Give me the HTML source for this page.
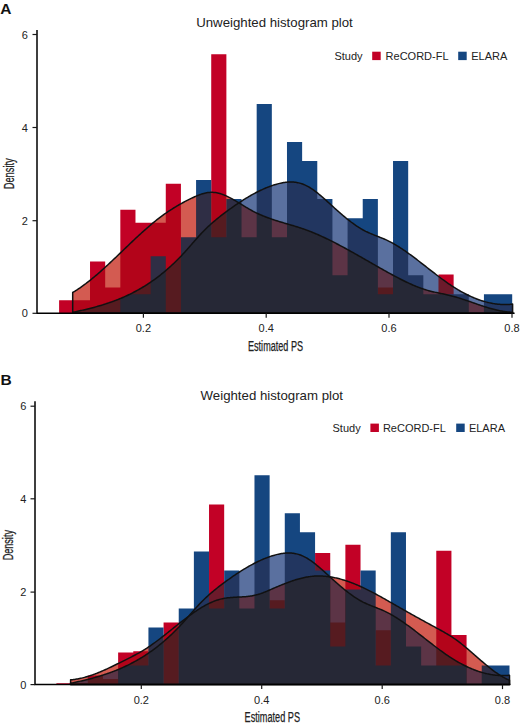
<!DOCTYPE html>
<html><head><meta charset="utf-8"><style>
html,body{margin:0;padding:0;background:#fff;}
svg{display:block;}
text{font-family:"Liberation Sans",sans-serif;fill:#222;}
.tk{font-size:11px;}
.tt{font-size:13px;}
.lg{font-size:11px;}
.pl{font-size:15.5px;font-weight:bold;fill:#111;}
.ax{font-size:14px;stroke:#222;stroke-width:0.25px;}
</style></head><body>
<svg width="520" height="726" viewBox="0 0 520 726">
<rect width="520" height="726" fill="#fff"/>
<defs><clipPath id="csa"><path d="M72.70,292.49 L73.70,291.89 L74.70,291.29 L75.70,290.67 L76.70,290.03 L77.70,289.38 L78.70,288.72 L79.70,288.04 L80.70,287.35 L81.70,286.65 L82.70,285.94 L83.70,285.21 L84.70,284.48 L85.70,283.73 L86.70,282.97 L87.70,282.20 L88.70,281.41 L89.70,280.62 L90.70,279.82 L91.70,279.01 L92.70,278.19 L93.70,277.36 L94.70,276.52 L95.70,275.68 L96.70,274.82 L97.70,273.96 L98.70,273.09 L99.70,272.21 L100.70,271.33 L101.70,270.43 L102.70,269.54 L103.70,268.63 L104.70,267.72 L105.70,266.81 L106.70,265.89 L107.70,264.97 L108.70,264.04 L109.70,263.10 L110.70,262.17 L111.70,261.22 L112.70,260.28 L113.70,259.33 L114.70,258.38 L115.70,257.43 L116.70,256.48 L117.70,255.52 L118.70,254.56 L119.70,253.60 L120.70,252.64 L121.70,251.68 L122.70,250.72 L123.70,249.76 L124.70,248.80 L125.70,247.84 L126.70,246.88 L127.70,245.92 L128.70,244.96 L129.70,244.00 L130.70,243.05 L131.70,242.10 L132.70,241.15 L133.70,240.21 L134.70,239.26 L135.70,238.32 L136.70,237.39 L137.70,236.46 L138.70,235.53 L139.70,234.61 L140.70,233.69 L141.70,232.78 L142.70,231.88 L143.70,230.98 L144.70,230.08 L145.70,229.20 L146.70,228.32 L147.70,227.44 L148.70,226.58 L149.70,225.72 L150.70,224.87 L151.70,224.03 L152.70,223.19 L153.70,222.37 L154.70,221.55 L155.70,220.75 L156.70,219.95 L157.70,219.17 L158.70,218.39 L159.70,217.63 L160.70,216.87 L161.70,216.13 L162.70,215.40 L163.70,214.68 L164.70,213.96 L165.70,213.26 L166.70,212.57 L167.70,211.89 L168.70,211.22 L169.70,210.55 L170.70,209.90 L171.70,209.26 L172.70,208.62 L173.70,208.00 L174.70,207.38 L175.70,206.78 L176.70,206.18 L177.70,205.59 L178.70,205.01 L179.70,204.44 L180.70,203.87 L181.70,203.32 L182.70,202.77 L183.70,202.23 L184.70,201.70 L185.70,201.17 L186.70,200.65 L187.70,200.14 L188.70,199.64 L189.70,199.15 L190.70,198.66 L191.70,198.18 L192.70,197.71 L193.70,197.24 L194.70,196.79 L195.70,196.35 L196.70,195.92 L197.70,195.51 L198.70,195.12 L199.70,194.74 L200.70,194.38 L201.70,194.05 L202.70,193.74 L203.70,193.46 L204.70,193.20 L205.70,192.98 L206.70,192.78 L207.70,192.61 L208.70,192.48 L209.70,192.38 L210.70,192.32 L211.70,192.30 L212.70,192.32 L213.70,192.38 L214.70,192.48 L215.70,192.61 L216.70,192.78 L217.70,192.98 L218.70,193.22 L219.70,193.49 L220.70,193.79 L221.70,194.11 L222.70,194.47 L223.70,194.85 L224.70,195.25 L225.70,195.68 L226.70,196.13 L227.70,196.60 L228.70,197.09 L229.70,197.60 L230.70,198.12 L231.70,198.66 L232.70,199.22 L233.70,199.78 L234.70,200.36 L235.70,200.94 L236.70,201.54 L237.70,202.14 L238.70,202.74 L239.70,203.35 L240.70,203.97 L241.70,204.58 L242.70,205.20 L243.70,205.81 L244.70,206.42 L245.70,207.02 L246.70,207.63 L247.70,208.22 L248.70,208.80 L249.70,209.38 L250.70,209.95 L251.70,210.50 L252.70,211.04 L253.70,211.56 L254.70,212.07 L255.70,212.57 L256.70,213.06 L257.70,213.53 L258.70,214.00 L259.70,214.45 L260.70,214.89 L261.70,215.31 L262.70,215.73 L263.70,216.14 L264.70,216.54 L265.70,216.93 L266.70,217.31 L267.70,217.69 L268.70,218.05 L269.70,218.41 L270.70,218.76 L271.70,219.11 L272.70,219.45 L273.70,219.78 L274.70,220.11 L275.70,220.43 L276.70,220.75 L277.70,221.06 L278.70,221.37 L279.70,221.68 L280.70,221.98 L281.70,222.28 L282.70,222.58 L283.70,222.88 L284.70,223.17 L285.70,223.47 L286.70,223.76 L287.70,224.05 L288.70,224.35 L289.70,224.64 L290.70,224.94 L291.70,225.23 L292.70,225.53 L293.70,225.83 L294.70,226.14 L295.70,226.44 L296.70,226.75 L297.70,227.07 L298.70,227.38 L299.70,227.71 L300.70,228.03 L301.70,228.37 L302.70,228.71 L303.70,229.05 L304.70,229.40 L305.70,229.76 L306.70,230.13 L307.70,230.50 L308.70,230.88 L309.70,231.26 L310.70,231.65 L311.70,232.05 L312.70,232.46 L313.70,232.87 L314.70,233.28 L315.70,233.70 L316.70,234.13 L317.70,234.56 L318.70,235.00 L319.70,235.45 L320.70,235.90 L321.70,236.35 L322.70,236.81 L323.70,237.28 L324.70,237.74 L325.70,238.22 L326.70,238.70 L327.70,239.18 L328.70,239.67 L329.70,240.16 L330.70,240.66 L331.70,241.16 L332.70,241.66 L333.70,242.17 L334.70,242.68 L335.70,243.20 L336.70,243.71 L337.70,244.24 L338.70,244.76 L339.70,245.29 L340.70,245.82 L341.70,246.36 L342.70,246.90 L343.70,247.44 L344.70,247.98 L345.70,248.52 L346.70,249.07 L347.70,249.62 L348.70,250.18 L349.70,250.73 L350.70,251.29 L351.70,251.85 L352.70,252.41 L353.70,252.97 L354.70,253.53 L355.70,254.10 L356.70,254.66 L357.70,255.23 L358.70,255.80 L359.70,256.37 L360.70,256.94 L361.70,257.51 L362.70,258.08 L363.70,258.66 L364.70,259.23 L365.70,259.80 L366.70,260.38 L367.70,260.95 L368.70,261.52 L369.70,262.10 L370.70,262.67 L371.70,263.24 L372.70,263.82 L373.70,264.39 L374.70,264.96 L375.70,265.53 L376.70,266.10 L377.70,266.67 L378.70,267.24 L379.70,267.81 L380.70,268.37 L381.70,268.94 L382.70,269.50 L383.70,270.06 L384.70,270.62 L385.70,271.18 L386.70,271.73 L387.70,272.29 L388.70,272.84 L389.70,273.39 L390.70,273.93 L391.70,274.48 L392.70,275.02 L393.70,275.56 L394.70,276.09 L395.70,276.63 L396.70,277.15 L397.70,277.68 L398.70,278.20 L399.70,278.72 L400.70,279.23 L401.70,279.74 L402.70,280.24 L403.70,280.74 L404.70,281.23 L405.70,281.72 L406.70,282.20 L407.70,282.67 L408.70,283.14 L409.70,283.60 L410.70,284.05 L411.70,284.50 L412.70,284.94 L413.70,285.37 L414.70,285.79 L415.70,286.20 L416.70,286.60 L417.70,287.00 L418.70,287.38 L419.70,287.76 L420.70,288.13 L421.70,288.48 L422.70,288.83 L423.70,289.16 L424.70,289.49 L425.70,289.80 L426.70,290.10 L427.70,290.39 L428.70,290.67 L429.70,290.93 L430.70,291.19 L431.70,291.44 L432.70,291.68 L433.70,291.92 L434.70,292.14 L435.70,292.37 L436.70,292.59 L437.70,292.80 L438.70,293.01 L439.70,293.22 L440.70,293.43 L441.70,293.64 L442.70,293.85 L443.70,294.06 L444.70,294.28 L445.70,294.49 L446.70,294.71 L447.70,294.94 L448.70,295.17 L449.70,295.41 L450.70,295.65 L451.70,295.91 L452.70,296.17 L453.70,296.44 L454.70,296.72 L455.70,297.01 L456.70,297.30 L457.70,297.60 L458.70,297.90 L459.70,298.22 L460.70,298.53 L461.70,298.85 L462.70,299.18 L463.70,299.51 L464.70,299.85 L465.70,300.19 L466.70,300.53 L467.70,300.87 L468.70,301.22 L469.70,301.56 L470.70,301.91 L471.70,302.26 L472.70,302.61 L473.70,302.96 L474.70,303.31 L475.70,303.66 L476.70,304.01 L477.70,304.35 L478.70,304.70 L479.70,305.04 L480.70,305.38 L481.70,305.71 L482.70,306.04 L483.70,306.37 L484.70,306.70 L485.70,307.01 L486.70,307.33 L487.70,307.63 L488.70,307.94 L489.70,308.23 L490.70,308.52 L491.70,308.80 L492.70,309.07 L493.70,309.34 L494.70,309.59 L495.70,309.84 L496.70,310.08 L497.70,310.30 L498.70,310.52 L499.70,310.73 L500.70,310.92 L501.70,311.11 L502.70,311.28 L503.70,311.44 L504.70,311.59 L505.70,311.72 L506.70,311.84 L507.70,311.95 L508.70,312.04 L509.70,312.12 L510.70,312.18 L511.70,312.23 L512.60,312.25 L512.60,313.30 L72.70,313.30 Z"/></clipPath><clipPath id="cla"><path d="M72.70,312.30 L73.70,312.09 L74.70,311.88 L75.70,311.67 L76.70,311.46 L77.70,311.25 L78.70,311.03 L79.70,310.82 L80.70,310.59 L81.70,310.37 L82.70,310.14 L83.70,309.91 L84.70,309.68 L85.70,309.45 L86.70,309.21 L87.70,308.97 L88.70,308.72 L89.70,308.47 L90.70,308.22 L91.70,307.96 L92.70,307.70 L93.70,307.44 L94.70,307.17 L95.70,306.90 L96.70,306.62 L97.70,306.34 L98.70,306.05 L99.70,305.76 L100.70,305.46 L101.70,305.16 L102.70,304.86 L103.70,304.55 L104.70,304.23 L105.70,303.91 L106.70,303.58 L107.70,303.25 L108.70,302.91 L109.70,302.57 L110.70,302.22 L111.70,301.86 L112.70,301.50 L113.70,301.13 L114.70,300.76 L115.70,300.38 L116.70,299.99 L117.70,299.60 L118.70,299.20 L119.70,298.79 L120.70,298.37 L121.70,297.95 L122.70,297.52 L123.70,297.09 L124.70,296.64 L125.70,296.19 L126.70,295.73 L127.70,295.27 L128.70,294.79 L129.70,294.31 L130.70,293.82 L131.70,293.32 L132.70,292.81 L133.70,292.29 L134.70,291.77 L135.70,291.24 L136.70,290.69 L137.70,290.14 L138.70,289.58 L139.70,289.01 L140.70,288.44 L141.70,287.85 L142.70,287.25 L143.70,286.64 L144.70,286.03 L145.70,285.40 L146.70,284.77 L147.70,284.12 L148.70,283.46 L149.70,282.80 L150.70,282.12 L151.70,281.43 L152.70,280.73 L153.70,280.03 L154.70,279.31 L155.70,278.58 L156.70,277.83 L157.70,277.08 L158.70,276.32 L159.70,275.54 L160.70,274.76 L161.70,273.96 L162.70,273.15 L163.70,272.33 L164.70,271.49 L165.70,270.65 L166.70,269.79 L167.70,268.92 L168.70,268.04 L169.70,267.14 L170.70,266.24 L171.70,265.32 L172.70,264.38 L173.70,263.44 L174.70,262.48 L175.70,261.51 L176.70,260.52 L177.70,259.52 L178.70,258.51 L179.70,257.49 L180.70,256.45 L181.70,255.39 L182.70,254.33 L183.70,253.25 L184.70,252.15 L185.70,251.04 L186.70,249.93 L187.70,248.80 L188.70,247.66 L189.70,246.52 L190.70,245.38 L191.70,244.23 L192.70,243.08 L193.70,241.94 L194.70,240.80 L195.70,239.66 L196.70,238.53 L197.70,237.42 L198.70,236.31 L199.70,235.21 L200.70,234.13 L201.70,233.07 L202.70,232.02 L203.70,231.00 L204.70,229.99 L205.70,229.00 L206.70,228.03 L207.70,227.07 L208.70,226.14 L209.70,225.21 L210.70,224.31 L211.70,223.41 L212.70,222.54 L213.70,221.67 L214.70,220.82 L215.70,219.98 L216.70,219.15 L217.70,218.34 L218.70,217.53 L219.70,216.74 L220.70,215.95 L221.70,215.17 L222.70,214.40 L223.70,213.64 L224.70,212.89 L225.70,212.14 L226.70,211.40 L227.70,210.67 L228.70,209.94 L229.70,209.21 L230.70,208.49 L231.70,207.78 L232.70,207.07 L233.70,206.37 L234.70,205.68 L235.70,204.99 L236.70,204.31 L237.70,203.63 L238.70,202.96 L239.70,202.30 L240.70,201.64 L241.70,201.00 L242.70,200.36 L243.70,199.72 L244.70,199.10 L245.70,198.48 L246.70,197.87 L247.70,197.27 L248.70,196.68 L249.70,196.10 L250.70,195.52 L251.70,194.96 L252.70,194.40 L253.70,193.85 L254.70,193.31 L255.70,192.78 L256.70,192.27 L257.70,191.76 L258.70,191.26 L259.70,190.77 L260.70,190.29 L261.70,189.82 L262.70,189.36 L263.70,188.92 L264.70,188.48 L265.70,188.06 L266.70,187.64 L267.70,187.24 L268.70,186.85 L269.70,186.47 L270.70,186.11 L271.70,185.75 L272.70,185.41 L273.70,185.08 L274.70,184.77 L275.70,184.46 L276.70,184.17 L277.70,183.90 L278.70,183.64 L279.70,183.39 L280.70,183.16 L281.70,182.95 L282.70,182.76 L283.70,182.59 L284.70,182.44 L285.70,182.30 L286.70,182.19 L287.70,182.11 L288.70,182.04 L289.70,182.00 L290.70,181.99 L291.70,182.00 L292.70,182.04 L293.70,182.10 L294.70,182.20 L295.70,182.32 L296.70,182.47 L297.70,182.66 L298.70,182.87 L299.70,183.12 L300.70,183.40 L301.70,183.71 L302.70,184.06 L303.70,184.45 L304.70,184.87 L305.70,185.33 L306.70,185.82 L307.70,186.35 L308.70,186.91 L309.70,187.50 L310.70,188.12 L311.70,188.77 L312.70,189.45 L313.70,190.15 L314.70,190.88 L315.70,191.63 L316.70,192.39 L317.70,193.18 L318.70,193.99 L319.70,194.81 L320.70,195.65 L321.70,196.51 L322.70,197.37 L323.70,198.25 L324.70,199.13 L325.70,200.03 L326.70,200.93 L327.70,201.83 L328.70,202.74 L329.70,203.65 L330.70,204.57 L331.70,205.48 L332.70,206.39 L333.70,207.29 L334.70,208.20 L335.70,209.10 L336.70,209.99 L337.70,210.89 L338.70,211.77 L339.70,212.65 L340.70,213.52 L341.70,214.38 L342.70,215.24 L343.70,216.09 L344.70,216.93 L345.70,217.75 L346.70,218.57 L347.70,219.38 L348.70,220.17 L349.70,220.96 L350.70,221.73 L351.70,222.48 L352.70,223.22 L353.70,223.95 L354.70,224.66 L355.70,225.36 L356.70,226.04 L357.70,226.70 L358.70,227.35 L359.70,227.97 L360.70,228.58 L361.70,229.17 L362.70,229.74 L363.70,230.28 L364.70,230.81 L365.70,231.32 L366.70,231.80 L367.70,232.27 L368.70,232.73 L369.70,233.17 L370.70,233.60 L371.70,234.02 L372.70,234.42 L373.70,234.83 L374.70,235.22 L375.70,235.62 L376.70,236.01 L377.70,236.40 L378.70,236.79 L379.70,237.18 L380.70,237.58 L381.70,237.98 L382.70,238.39 L383.70,238.81 L384.70,239.24 L385.70,239.69 L386.70,240.14 L387.70,240.62 L388.70,241.10 L389.70,241.61 L390.70,242.12 L391.70,242.66 L392.70,243.20 L393.70,243.76 L394.70,244.34 L395.70,244.92 L396.70,245.52 L397.70,246.13 L398.70,246.75 L399.70,247.38 L400.70,248.03 L401.70,248.68 L402.70,249.35 L403.70,250.02 L404.70,250.70 L405.70,251.39 L406.70,252.09 L407.70,252.80 L408.70,253.52 L409.70,254.24 L410.70,254.97 L411.70,255.70 L412.70,256.44 L413.70,257.19 L414.70,257.94 L415.70,258.70 L416.70,259.46 L417.70,260.23 L418.70,261.00 L419.70,261.77 L420.70,262.54 L421.70,263.32 L422.70,264.10 L423.70,264.88 L424.70,265.66 L425.70,266.44 L426.70,267.23 L427.70,268.01 L428.70,268.79 L429.70,269.58 L430.70,270.36 L431.70,271.14 L432.70,271.91 L433.70,272.69 L434.70,273.46 L435.70,274.23 L436.70,275.00 L437.70,275.76 L438.70,276.51 L439.70,277.27 L440.70,278.01 L441.70,278.76 L442.70,279.49 L443.70,280.22 L444.70,280.94 L445.70,281.66 L446.70,282.37 L447.70,283.07 L448.70,283.76 L449.70,284.44 L450.70,285.11 L451.70,285.78 L452.70,286.43 L453.70,287.08 L454.70,287.71 L455.70,288.34 L456.70,288.95 L457.70,289.55 L458.70,290.15 L459.70,290.73 L460.70,291.30 L461.70,291.86 L462.70,292.41 L463.70,292.95 L464.70,293.48 L465.70,294.00 L466.70,294.51 L467.70,295.00 L468.70,295.48 L469.70,295.96 L470.70,296.42 L471.70,296.87 L472.70,297.30 L473.70,297.73 L474.70,298.14 L475.70,298.55 L476.70,298.94 L477.70,299.31 L478.70,299.68 L479.70,300.03 L480.70,300.37 L481.70,300.70 L482.70,301.01 L483.70,301.32 L484.70,301.61 L485.70,301.88 L486.70,302.15 L487.70,302.40 L488.70,302.63 L489.70,302.86 L490.70,303.07 L491.70,303.26 L492.70,303.45 L493.70,303.62 L494.70,303.77 L495.70,303.92 L496.70,304.04 L497.70,304.16 L498.70,304.26 L499.70,304.34 L500.70,304.41 L501.70,304.47 L502.70,304.51 L503.70,304.54 L504.70,304.55 L505.70,304.55 L506.70,304.53 L507.70,304.50 L508.70,304.45 L509.70,304.39 L510.70,304.31 L511.70,304.22 L512.60,304.12 L512.60,313.30 L72.70,313.30 Z"/></clipPath></defs><path d="M59.10,300.35H74.88V313.30H59.10ZM74.88,300.35H90.03V313.30H74.88ZM90.03,261.50H105.18V313.30H90.03ZM105.18,287.40H120.33V313.30H105.18ZM120.33,209.70H135.48V313.30H120.33ZM135.48,222.65H150.63V313.30H135.48ZM150.63,222.65H165.78V313.30H150.63ZM165.78,183.80H180.93V313.30H165.78ZM211.23,54.30H226.38V313.30H211.23ZM377.88,287.40H393.03V313.30H377.88ZM438.48,274.45H453.63V313.30H438.48Z" fill="#c20126"/><path d="M135.48,294.27H150.63V313.30H135.48ZM150.63,256.21H165.78V313.30H150.63ZM180.93,237.18H196.08V313.30H180.93ZM196.08,180.09H211.23V313.30H196.08ZM211.23,237.18H226.38V313.30H211.23ZM226.38,199.12H241.53V313.30H226.38ZM241.53,237.18H256.68V313.30H241.53ZM256.68,103.97H271.83V313.30H256.68ZM271.83,237.18H286.98V313.30H271.83ZM286.98,142.03H302.13V313.30H286.98ZM302.13,161.06H317.28V313.30H302.13ZM317.28,199.12H332.43V313.30H317.28ZM332.43,275.24H347.58V313.30H332.43ZM347.58,218.15H362.73V313.30H347.58ZM362.73,199.12H377.88V313.30H362.73ZM377.88,294.27H393.03V313.30H377.88ZM393.03,161.06H408.18V313.30H393.03ZM408.18,275.24H423.33V313.30H408.18ZM423.33,294.27H438.48V313.30H423.33ZM438.48,294.27H453.63V313.30H438.48ZM453.63,294.27H468.78V313.30H453.63ZM483.93,294.27H499.08V313.30H483.93ZM499.08,294.27H512.20V313.30H499.08Z" fill="#154680"/><g clip-path="url(#csa)"><rect x="60" y="13.3" width="460" height="300" fill="#d35b51"/><path d="M59.10,300.35H74.88V313.30H59.10ZM74.88,300.35H90.03V313.30H74.88ZM90.03,261.50H105.18V313.30H90.03ZM105.18,287.40H120.33V313.30H105.18ZM120.33,209.70H135.48V313.30H120.33ZM135.48,222.65H150.63V313.30H135.48ZM150.63,222.65H165.78V313.30H150.63ZM165.78,183.80H180.93V313.30H165.78ZM211.23,54.30H226.38V313.30H211.23ZM377.88,287.40H393.03V313.30H377.88ZM438.48,274.45H453.63V313.30H438.48Z" fill="#b3041a"/><path d="M135.48,294.27H150.63V313.30H135.48ZM150.63,256.21H165.78V313.30H150.63ZM180.93,237.18H196.08V313.30H180.93ZM196.08,180.09H211.23V313.30H196.08ZM211.23,237.18H226.38V313.30H211.23ZM226.38,199.12H241.53V313.30H226.38ZM241.53,237.18H256.68V313.30H241.53ZM256.68,103.97H271.83V313.30H256.68ZM271.83,237.18H286.98V313.30H271.83ZM286.98,142.03H302.13V313.30H286.98ZM302.13,161.06H317.28V313.30H302.13ZM317.28,199.12H332.43V313.30H317.28ZM332.43,275.24H347.58V313.30H332.43ZM347.58,218.15H362.73V313.30H347.58ZM362.73,199.12H377.88V313.30H362.73ZM377.88,294.27H393.03V313.30H377.88ZM393.03,161.06H408.18V313.30H393.03ZM408.18,275.24H423.33V313.30H408.18ZM423.33,294.27H438.48V313.30H423.33ZM438.48,294.27H453.63V313.30H438.48ZM453.63,294.27H468.78V313.30H453.63ZM483.93,294.27H499.08V313.30H483.93ZM499.08,294.27H512.20V313.30H499.08Z" fill="#2f2e45"/></g><g clip-path="url(#cla)"><rect x="60" y="13.3" width="460" height="300" fill="#5a709f"/><path d="M59.10,300.35H74.88V313.30H59.10ZM74.88,300.35H90.03V313.30H74.88ZM90.03,261.50H105.18V313.30H90.03ZM105.18,287.40H120.33V313.30H105.18ZM120.33,209.70H135.48V313.30H120.33ZM135.48,222.65H150.63V313.30H135.48ZM150.63,222.65H165.78V313.30H150.63ZM165.78,183.80H180.93V313.30H165.78ZM211.23,54.30H226.38V313.30H211.23ZM377.88,287.40H393.03V313.30H377.88ZM438.48,274.45H453.63V313.30H438.48Z" fill="#6c1a2b"/><path d="M120.33,294.27H135.48V313.30H120.33ZM135.48,294.27H150.63V313.30H135.48ZM150.63,256.21H165.78V313.30H150.63ZM180.93,237.18H196.08V313.30H180.93ZM196.08,180.09H211.23V313.30H196.08ZM211.23,237.18H226.38V313.30H211.23ZM226.38,199.12H241.53V313.30H226.38ZM241.53,237.18H256.68V313.30H241.53ZM256.68,103.97H271.83V313.30H256.68ZM271.83,237.18H286.98V313.30H271.83ZM286.98,142.03H302.13V313.30H286.98ZM302.13,161.06H317.28V313.30H302.13ZM317.28,199.12H332.43V313.30H317.28ZM332.43,275.24H347.58V313.30H332.43ZM347.58,218.15H362.73V313.30H347.58ZM362.73,199.12H377.88V313.30H362.73ZM377.88,294.27H393.03V313.30H377.88ZM393.03,161.06H408.18V313.30H393.03ZM408.18,275.24H423.33V313.30H408.18ZM423.33,294.27H438.48V313.30H423.33ZM438.48,294.27H453.63V313.30H438.48ZM453.63,294.27H468.78V313.30H453.63ZM483.93,294.27H499.08V313.30H483.93ZM499.08,294.27H512.20V313.30H499.08Z" fill="#223660"/></g><g clip-path="url(#csa)"><g clip-path="url(#cla)"><rect x="60" y="13.3" width="460" height="300" fill="#5c3446"/><path d="M59.10,300.35H74.88V313.30H59.10ZM74.88,300.35H90.03V313.30H74.88ZM90.03,261.50H105.18V313.30H90.03ZM105.18,287.40H120.33V313.30H105.18ZM120.33,209.70H135.48V313.30H120.33ZM135.48,222.65H150.63V313.30H135.48ZM150.63,222.65H165.78V313.30H150.63ZM165.78,183.80H180.93V313.30H165.78ZM211.23,54.30H226.38V313.30H211.23ZM377.88,287.40H393.03V313.30H377.88ZM438.48,274.45H453.63V313.30H438.48Z" fill="#561b20"/><path d="M120.33,294.27H135.48V313.30H120.33ZM135.48,294.27H150.63V313.30H135.48ZM150.63,256.21H165.78V313.30H150.63ZM180.93,237.18H196.08V313.30H180.93ZM196.08,180.09H211.23V313.30H196.08ZM211.23,237.18H226.38V313.30H211.23ZM226.38,199.12H241.53V313.30H226.38ZM241.53,237.18H256.68V313.30H241.53ZM256.68,103.97H271.83V313.30H256.68ZM271.83,237.18H286.98V313.30H271.83ZM286.98,142.03H302.13V313.30H286.98ZM302.13,161.06H317.28V313.30H302.13ZM317.28,199.12H332.43V313.30H317.28ZM332.43,275.24H347.58V313.30H332.43ZM347.58,218.15H362.73V313.30H347.58ZM362.73,199.12H377.88V313.30H362.73ZM377.88,294.27H393.03V313.30H377.88ZM393.03,161.06H408.18V313.30H393.03ZM408.18,275.24H423.33V313.30H408.18ZM423.33,294.27H438.48V313.30H423.33ZM438.48,294.27H453.63V313.30H438.48ZM453.63,294.27H468.78V313.30H453.63ZM483.93,294.27H499.08V313.30H483.93ZM499.08,294.27H512.20V313.30H499.08Z" fill="#262836"/></g></g><path d="M72.70,292.49 L73.70,291.89 L74.70,291.29 L75.70,290.67 L76.70,290.03 L77.70,289.38 L78.70,288.72 L79.70,288.04 L80.70,287.35 L81.70,286.65 L82.70,285.94 L83.70,285.21 L84.70,284.48 L85.70,283.73 L86.70,282.97 L87.70,282.20 L88.70,281.41 L89.70,280.62 L90.70,279.82 L91.70,279.01 L92.70,278.19 L93.70,277.36 L94.70,276.52 L95.70,275.68 L96.70,274.82 L97.70,273.96 L98.70,273.09 L99.70,272.21 L100.70,271.33 L101.70,270.43 L102.70,269.54 L103.70,268.63 L104.70,267.72 L105.70,266.81 L106.70,265.89 L107.70,264.97 L108.70,264.04 L109.70,263.10 L110.70,262.17 L111.70,261.22 L112.70,260.28 L113.70,259.33 L114.70,258.38 L115.70,257.43 L116.70,256.48 L117.70,255.52 L118.70,254.56 L119.70,253.60 L120.70,252.64 L121.70,251.68 L122.70,250.72 L123.70,249.76 L124.70,248.80 L125.70,247.84 L126.70,246.88 L127.70,245.92 L128.70,244.96 L129.70,244.00 L130.70,243.05 L131.70,242.10 L132.70,241.15 L133.70,240.21 L134.70,239.26 L135.70,238.32 L136.70,237.39 L137.70,236.46 L138.70,235.53 L139.70,234.61 L140.70,233.69 L141.70,232.78 L142.70,231.88 L143.70,230.98 L144.70,230.08 L145.70,229.20 L146.70,228.32 L147.70,227.44 L148.70,226.58 L149.70,225.72 L150.70,224.87 L151.70,224.03 L152.70,223.19 L153.70,222.37 L154.70,221.55 L155.70,220.75 L156.70,219.95 L157.70,219.17 L158.70,218.39 L159.70,217.63 L160.70,216.87 L161.70,216.13 L162.70,215.40 L163.70,214.68 L164.70,213.96 L165.70,213.26 L166.70,212.57 L167.70,211.89 L168.70,211.22 L169.70,210.55 L170.70,209.90 L171.70,209.26 L172.70,208.62 L173.70,208.00 L174.70,207.38 L175.70,206.78 L176.70,206.18 L177.70,205.59 L178.70,205.01 L179.70,204.44 L180.70,203.87 L181.70,203.32 L182.70,202.77 L183.70,202.23 L184.70,201.70 L185.70,201.17 L186.70,200.65 L187.70,200.14 L188.70,199.64 L189.70,199.15 L190.70,198.66 L191.70,198.18 L192.70,197.71 L193.70,197.24 L194.70,196.79 L195.70,196.35 L196.70,195.92 L197.70,195.51 L198.70,195.12 L199.70,194.74 L200.70,194.38 L201.70,194.05 L202.70,193.74 L203.70,193.46 L204.70,193.20 L205.70,192.98 L206.70,192.78 L207.70,192.61 L208.70,192.48 L209.70,192.38 L210.70,192.32 L211.70,192.30 L212.70,192.32 L213.70,192.38 L214.70,192.48 L215.70,192.61 L216.70,192.78 L217.70,192.98 L218.70,193.22 L219.70,193.49 L220.70,193.79 L221.70,194.11 L222.70,194.47 L223.70,194.85 L224.70,195.25 L225.70,195.68 L226.70,196.13 L227.70,196.60 L228.70,197.09 L229.70,197.60 L230.70,198.12 L231.70,198.66 L232.70,199.22 L233.70,199.78 L234.70,200.36 L235.70,200.94 L236.70,201.54 L237.70,202.14 L238.70,202.74 L239.70,203.35 L240.70,203.97 L241.70,204.58 L242.70,205.20 L243.70,205.81 L244.70,206.42 L245.70,207.02 L246.70,207.63 L247.70,208.22 L248.70,208.80 L249.70,209.38 L250.70,209.95 L251.70,210.50 L252.70,211.04 L253.70,211.56 L254.70,212.07 L255.70,212.57 L256.70,213.06 L257.70,213.53 L258.70,214.00 L259.70,214.45 L260.70,214.89 L261.70,215.31 L262.70,215.73 L263.70,216.14 L264.70,216.54 L265.70,216.93 L266.70,217.31 L267.70,217.69 L268.70,218.05 L269.70,218.41 L270.70,218.76 L271.70,219.11 L272.70,219.45 L273.70,219.78 L274.70,220.11 L275.70,220.43 L276.70,220.75 L277.70,221.06 L278.70,221.37 L279.70,221.68 L280.70,221.98 L281.70,222.28 L282.70,222.58 L283.70,222.88 L284.70,223.17 L285.70,223.47 L286.70,223.76 L287.70,224.05 L288.70,224.35 L289.70,224.64 L290.70,224.94 L291.70,225.23 L292.70,225.53 L293.70,225.83 L294.70,226.14 L295.70,226.44 L296.70,226.75 L297.70,227.07 L298.70,227.38 L299.70,227.71 L300.70,228.03 L301.70,228.37 L302.70,228.71 L303.70,229.05 L304.70,229.40 L305.70,229.76 L306.70,230.13 L307.70,230.50 L308.70,230.88 L309.70,231.26 L310.70,231.65 L311.70,232.05 L312.70,232.46 L313.70,232.87 L314.70,233.28 L315.70,233.70 L316.70,234.13 L317.70,234.56 L318.70,235.00 L319.70,235.45 L320.70,235.90 L321.70,236.35 L322.70,236.81 L323.70,237.28 L324.70,237.74 L325.70,238.22 L326.70,238.70 L327.70,239.18 L328.70,239.67 L329.70,240.16 L330.70,240.66 L331.70,241.16 L332.70,241.66 L333.70,242.17 L334.70,242.68 L335.70,243.20 L336.70,243.71 L337.70,244.24 L338.70,244.76 L339.70,245.29 L340.70,245.82 L341.70,246.36 L342.70,246.90 L343.70,247.44 L344.70,247.98 L345.70,248.52 L346.70,249.07 L347.70,249.62 L348.70,250.18 L349.70,250.73 L350.70,251.29 L351.70,251.85 L352.70,252.41 L353.70,252.97 L354.70,253.53 L355.70,254.10 L356.70,254.66 L357.70,255.23 L358.70,255.80 L359.70,256.37 L360.70,256.94 L361.70,257.51 L362.70,258.08 L363.70,258.66 L364.70,259.23 L365.70,259.80 L366.70,260.38 L367.70,260.95 L368.70,261.52 L369.70,262.10 L370.70,262.67 L371.70,263.24 L372.70,263.82 L373.70,264.39 L374.70,264.96 L375.70,265.53 L376.70,266.10 L377.70,266.67 L378.70,267.24 L379.70,267.81 L380.70,268.37 L381.70,268.94 L382.70,269.50 L383.70,270.06 L384.70,270.62 L385.70,271.18 L386.70,271.73 L387.70,272.29 L388.70,272.84 L389.70,273.39 L390.70,273.93 L391.70,274.48 L392.70,275.02 L393.70,275.56 L394.70,276.09 L395.70,276.63 L396.70,277.15 L397.70,277.68 L398.70,278.20 L399.70,278.72 L400.70,279.23 L401.70,279.74 L402.70,280.24 L403.70,280.74 L404.70,281.23 L405.70,281.72 L406.70,282.20 L407.70,282.67 L408.70,283.14 L409.70,283.60 L410.70,284.05 L411.70,284.50 L412.70,284.94 L413.70,285.37 L414.70,285.79 L415.70,286.20 L416.70,286.60 L417.70,287.00 L418.70,287.38 L419.70,287.76 L420.70,288.13 L421.70,288.48 L422.70,288.83 L423.70,289.16 L424.70,289.49 L425.70,289.80 L426.70,290.10 L427.70,290.39 L428.70,290.67 L429.70,290.93 L430.70,291.19 L431.70,291.44 L432.70,291.68 L433.70,291.92 L434.70,292.14 L435.70,292.37 L436.70,292.59 L437.70,292.80 L438.70,293.01 L439.70,293.22 L440.70,293.43 L441.70,293.64 L442.70,293.85 L443.70,294.06 L444.70,294.28 L445.70,294.49 L446.70,294.71 L447.70,294.94 L448.70,295.17 L449.70,295.41 L450.70,295.65 L451.70,295.91 L452.70,296.17 L453.70,296.44 L454.70,296.72 L455.70,297.01 L456.70,297.30 L457.70,297.60 L458.70,297.90 L459.70,298.22 L460.70,298.53 L461.70,298.85 L462.70,299.18 L463.70,299.51 L464.70,299.85 L465.70,300.19 L466.70,300.53 L467.70,300.87 L468.70,301.22 L469.70,301.56 L470.70,301.91 L471.70,302.26 L472.70,302.61 L473.70,302.96 L474.70,303.31 L475.70,303.66 L476.70,304.01 L477.70,304.35 L478.70,304.70 L479.70,305.04 L480.70,305.38 L481.70,305.71 L482.70,306.04 L483.70,306.37 L484.70,306.70 L485.70,307.01 L486.70,307.33 L487.70,307.63 L488.70,307.94 L489.70,308.23 L490.70,308.52 L491.70,308.80 L492.70,309.07 L493.70,309.34 L494.70,309.59 L495.70,309.84 L496.70,310.08 L497.70,310.30 L498.70,310.52 L499.70,310.73 L500.70,310.92 L501.70,311.11 L502.70,311.28 L503.70,311.44 L504.70,311.59 L505.70,311.72 L506.70,311.84 L507.70,311.95 L508.70,312.04 L509.70,312.12 L510.70,312.18 L511.70,312.23 L512.60,312.25 L512.60,313.30 L72.70,313.30 Z" fill="none" stroke="#111" stroke-width="1.5" stroke-linejoin="round"/><path d="M72.70,312.30 L73.70,312.09 L74.70,311.88 L75.70,311.67 L76.70,311.46 L77.70,311.25 L78.70,311.03 L79.70,310.82 L80.70,310.59 L81.70,310.37 L82.70,310.14 L83.70,309.91 L84.70,309.68 L85.70,309.45 L86.70,309.21 L87.70,308.97 L88.70,308.72 L89.70,308.47 L90.70,308.22 L91.70,307.96 L92.70,307.70 L93.70,307.44 L94.70,307.17 L95.70,306.90 L96.70,306.62 L97.70,306.34 L98.70,306.05 L99.70,305.76 L100.70,305.46 L101.70,305.16 L102.70,304.86 L103.70,304.55 L104.70,304.23 L105.70,303.91 L106.70,303.58 L107.70,303.25 L108.70,302.91 L109.70,302.57 L110.70,302.22 L111.70,301.86 L112.70,301.50 L113.70,301.13 L114.70,300.76 L115.70,300.38 L116.70,299.99 L117.70,299.60 L118.70,299.20 L119.70,298.79 L120.70,298.37 L121.70,297.95 L122.70,297.52 L123.70,297.09 L124.70,296.64 L125.70,296.19 L126.70,295.73 L127.70,295.27 L128.70,294.79 L129.70,294.31 L130.70,293.82 L131.70,293.32 L132.70,292.81 L133.70,292.29 L134.70,291.77 L135.70,291.24 L136.70,290.69 L137.70,290.14 L138.70,289.58 L139.70,289.01 L140.70,288.44 L141.70,287.85 L142.70,287.25 L143.70,286.64 L144.70,286.03 L145.70,285.40 L146.70,284.77 L147.70,284.12 L148.70,283.46 L149.70,282.80 L150.70,282.12 L151.70,281.43 L152.70,280.73 L153.70,280.03 L154.70,279.31 L155.70,278.58 L156.70,277.83 L157.70,277.08 L158.70,276.32 L159.70,275.54 L160.70,274.76 L161.70,273.96 L162.70,273.15 L163.70,272.33 L164.70,271.49 L165.70,270.65 L166.70,269.79 L167.70,268.92 L168.70,268.04 L169.70,267.14 L170.70,266.24 L171.70,265.32 L172.70,264.38 L173.70,263.44 L174.70,262.48 L175.70,261.51 L176.70,260.52 L177.70,259.52 L178.70,258.51 L179.70,257.49 L180.70,256.45 L181.70,255.39 L182.70,254.33 L183.70,253.25 L184.70,252.15 L185.70,251.04 L186.70,249.93 L187.70,248.80 L188.70,247.66 L189.70,246.52 L190.70,245.38 L191.70,244.23 L192.70,243.08 L193.70,241.94 L194.70,240.80 L195.70,239.66 L196.70,238.53 L197.70,237.42 L198.70,236.31 L199.70,235.21 L200.70,234.13 L201.70,233.07 L202.70,232.02 L203.70,231.00 L204.70,229.99 L205.70,229.00 L206.70,228.03 L207.70,227.07 L208.70,226.14 L209.70,225.21 L210.70,224.31 L211.70,223.41 L212.70,222.54 L213.70,221.67 L214.70,220.82 L215.70,219.98 L216.70,219.15 L217.70,218.34 L218.70,217.53 L219.70,216.74 L220.70,215.95 L221.70,215.17 L222.70,214.40 L223.70,213.64 L224.70,212.89 L225.70,212.14 L226.70,211.40 L227.70,210.67 L228.70,209.94 L229.70,209.21 L230.70,208.49 L231.70,207.78 L232.70,207.07 L233.70,206.37 L234.70,205.68 L235.70,204.99 L236.70,204.31 L237.70,203.63 L238.70,202.96 L239.70,202.30 L240.70,201.64 L241.70,201.00 L242.70,200.36 L243.70,199.72 L244.70,199.10 L245.70,198.48 L246.70,197.87 L247.70,197.27 L248.70,196.68 L249.70,196.10 L250.70,195.52 L251.70,194.96 L252.70,194.40 L253.70,193.85 L254.70,193.31 L255.70,192.78 L256.70,192.27 L257.70,191.76 L258.70,191.26 L259.70,190.77 L260.70,190.29 L261.70,189.82 L262.70,189.36 L263.70,188.92 L264.70,188.48 L265.70,188.06 L266.70,187.64 L267.70,187.24 L268.70,186.85 L269.70,186.47 L270.70,186.11 L271.70,185.75 L272.70,185.41 L273.70,185.08 L274.70,184.77 L275.70,184.46 L276.70,184.17 L277.70,183.90 L278.70,183.64 L279.70,183.39 L280.70,183.16 L281.70,182.95 L282.70,182.76 L283.70,182.59 L284.70,182.44 L285.70,182.30 L286.70,182.19 L287.70,182.11 L288.70,182.04 L289.70,182.00 L290.70,181.99 L291.70,182.00 L292.70,182.04 L293.70,182.10 L294.70,182.20 L295.70,182.32 L296.70,182.47 L297.70,182.66 L298.70,182.87 L299.70,183.12 L300.70,183.40 L301.70,183.71 L302.70,184.06 L303.70,184.45 L304.70,184.87 L305.70,185.33 L306.70,185.82 L307.70,186.35 L308.70,186.91 L309.70,187.50 L310.70,188.12 L311.70,188.77 L312.70,189.45 L313.70,190.15 L314.70,190.88 L315.70,191.63 L316.70,192.39 L317.70,193.18 L318.70,193.99 L319.70,194.81 L320.70,195.65 L321.70,196.51 L322.70,197.37 L323.70,198.25 L324.70,199.13 L325.70,200.03 L326.70,200.93 L327.70,201.83 L328.70,202.74 L329.70,203.65 L330.70,204.57 L331.70,205.48 L332.70,206.39 L333.70,207.29 L334.70,208.20 L335.70,209.10 L336.70,209.99 L337.70,210.89 L338.70,211.77 L339.70,212.65 L340.70,213.52 L341.70,214.38 L342.70,215.24 L343.70,216.09 L344.70,216.93 L345.70,217.75 L346.70,218.57 L347.70,219.38 L348.70,220.17 L349.70,220.96 L350.70,221.73 L351.70,222.48 L352.70,223.22 L353.70,223.95 L354.70,224.66 L355.70,225.36 L356.70,226.04 L357.70,226.70 L358.70,227.35 L359.70,227.97 L360.70,228.58 L361.70,229.17 L362.70,229.74 L363.70,230.28 L364.70,230.81 L365.70,231.32 L366.70,231.80 L367.70,232.27 L368.70,232.73 L369.70,233.17 L370.70,233.60 L371.70,234.02 L372.70,234.42 L373.70,234.83 L374.70,235.22 L375.70,235.62 L376.70,236.01 L377.70,236.40 L378.70,236.79 L379.70,237.18 L380.70,237.58 L381.70,237.98 L382.70,238.39 L383.70,238.81 L384.70,239.24 L385.70,239.69 L386.70,240.14 L387.70,240.62 L388.70,241.10 L389.70,241.61 L390.70,242.12 L391.70,242.66 L392.70,243.20 L393.70,243.76 L394.70,244.34 L395.70,244.92 L396.70,245.52 L397.70,246.13 L398.70,246.75 L399.70,247.38 L400.70,248.03 L401.70,248.68 L402.70,249.35 L403.70,250.02 L404.70,250.70 L405.70,251.39 L406.70,252.09 L407.70,252.80 L408.70,253.52 L409.70,254.24 L410.70,254.97 L411.70,255.70 L412.70,256.44 L413.70,257.19 L414.70,257.94 L415.70,258.70 L416.70,259.46 L417.70,260.23 L418.70,261.00 L419.70,261.77 L420.70,262.54 L421.70,263.32 L422.70,264.10 L423.70,264.88 L424.70,265.66 L425.70,266.44 L426.70,267.23 L427.70,268.01 L428.70,268.79 L429.70,269.58 L430.70,270.36 L431.70,271.14 L432.70,271.91 L433.70,272.69 L434.70,273.46 L435.70,274.23 L436.70,275.00 L437.70,275.76 L438.70,276.51 L439.70,277.27 L440.70,278.01 L441.70,278.76 L442.70,279.49 L443.70,280.22 L444.70,280.94 L445.70,281.66 L446.70,282.37 L447.70,283.07 L448.70,283.76 L449.70,284.44 L450.70,285.11 L451.70,285.78 L452.70,286.43 L453.70,287.08 L454.70,287.71 L455.70,288.34 L456.70,288.95 L457.70,289.55 L458.70,290.15 L459.70,290.73 L460.70,291.30 L461.70,291.86 L462.70,292.41 L463.70,292.95 L464.70,293.48 L465.70,294.00 L466.70,294.51 L467.70,295.00 L468.70,295.48 L469.70,295.96 L470.70,296.42 L471.70,296.87 L472.70,297.30 L473.70,297.73 L474.70,298.14 L475.70,298.55 L476.70,298.94 L477.70,299.31 L478.70,299.68 L479.70,300.03 L480.70,300.37 L481.70,300.70 L482.70,301.01 L483.70,301.32 L484.70,301.61 L485.70,301.88 L486.70,302.15 L487.70,302.40 L488.70,302.63 L489.70,302.86 L490.70,303.07 L491.70,303.26 L492.70,303.45 L493.70,303.62 L494.70,303.77 L495.70,303.92 L496.70,304.04 L497.70,304.16 L498.70,304.26 L499.70,304.34 L500.70,304.41 L501.70,304.47 L502.70,304.51 L503.70,304.54 L504.70,304.55 L505.70,304.55 L506.70,304.53 L507.70,304.50 L508.70,304.45 L509.70,304.39 L510.70,304.31 L511.70,304.22 L512.60,304.12 L512.60,313.30 L72.70,313.30 Z" fill="none" stroke="#111" stroke-width="1.5" stroke-linejoin="round"/><path d="M37.00,30.00V313.30H514.60" fill="none" stroke="#000" stroke-width="1.5"/><line x1="32.50" y1="34.50" x2="37.00" y2="34.50" stroke="#1a1a1a" stroke-width="1.2"/><text x="27.80" y="38.50" text-anchor="end" class="tk">6</text><line x1="32.50" y1="127.50" x2="37.00" y2="127.50" stroke="#1a1a1a" stroke-width="1.2"/><text x="27.80" y="131.50" text-anchor="end" class="tk">4</text><line x1="32.50" y1="220.70" x2="37.00" y2="220.70" stroke="#1a1a1a" stroke-width="1.2"/><text x="27.80" y="224.70" text-anchor="end" class="tk">2</text><line x1="32.50" y1="313.30" x2="37.00" y2="313.30" stroke="#1a1a1a" stroke-width="1.2"/><text x="27.80" y="317.30" text-anchor="end" class="tk">0</text><line x1="143.40" y1="313.30" x2="143.40" y2="317.80" stroke="#1a1a1a" stroke-width="1.2"/><text x="143.40" y="331.80" text-anchor="middle" class="tk">0.2</text><line x1="266.20" y1="313.30" x2="266.20" y2="317.80" stroke="#1a1a1a" stroke-width="1.2"/><text x="266.20" y="331.80" text-anchor="middle" class="tk">0.4</text><line x1="389.00" y1="313.30" x2="389.00" y2="317.80" stroke="#1a1a1a" stroke-width="1.2"/><text x="389.00" y="331.80" text-anchor="middle" class="tk">0.6</text><line x1="512.00" y1="313.30" x2="512.00" y2="317.80" stroke="#1a1a1a" stroke-width="1.2"/><text x="512.00" y="331.80" text-anchor="middle" class="tk">0.8</text><defs><clipPath id="csb"><path d="M70.60,679.83 L71.60,679.75 L72.60,679.65 L73.60,679.54 L74.60,679.41 L75.60,679.27 L76.60,679.11 L77.60,678.94 L78.60,678.76 L79.60,678.56 L80.60,678.34 L81.60,678.12 L82.60,677.88 L83.60,677.62 L84.60,677.36 L85.60,677.08 L86.60,676.80 L87.60,676.50 L88.60,676.19 L89.60,675.86 L90.60,675.53 L91.60,675.19 L92.60,674.84 L93.60,674.48 L94.60,674.11 L95.60,673.73 L96.60,673.34 L97.60,672.95 L98.60,672.54 L99.60,672.13 L100.60,671.71 L101.60,671.29 L102.60,670.86 L103.60,670.42 L104.60,669.97 L105.60,669.52 L106.60,669.07 L107.60,668.61 L108.60,668.14 L109.60,667.67 L110.60,667.20 L111.60,666.72 L112.60,666.24 L113.60,665.76 L114.60,665.27 L115.60,664.78 L116.60,664.29 L117.60,663.79 L118.60,663.30 L119.60,662.80 L120.60,662.30 L121.60,661.80 L122.60,661.30 L123.60,660.80 L124.60,660.30 L125.60,659.81 L126.60,659.31 L127.60,658.81 L128.60,658.31 L129.60,657.81 L130.60,657.31 L131.60,656.80 L132.60,656.29 L133.60,655.78 L134.60,655.26 L135.60,654.73 L136.60,654.20 L137.60,653.66 L138.60,653.11 L139.60,652.55 L140.60,651.97 L141.60,651.39 L142.60,650.80 L143.60,650.19 L144.60,649.57 L145.60,648.94 L146.60,648.29 L147.60,647.63 L148.60,646.97 L149.60,646.29 L150.60,645.60 L151.60,644.90 L152.60,644.19 L153.60,643.47 L154.60,642.74 L155.60,642.00 L156.60,641.26 L157.60,640.51 L158.60,639.75 L159.60,638.99 L160.60,638.22 L161.60,637.45 L162.60,636.67 L163.60,635.89 L164.60,635.10 L165.60,634.31 L166.60,633.51 L167.60,632.72 L168.60,631.92 L169.60,631.12 L170.60,630.32 L171.60,629.52 L172.60,628.72 L173.60,627.91 L174.60,627.11 L175.60,626.31 L176.60,625.52 L177.60,624.72 L178.60,623.93 L179.60,623.14 L180.60,622.35 L181.60,621.57 L182.60,620.79 L183.60,620.02 L184.60,619.25 L185.60,618.49 L186.60,617.73 L187.60,616.98 L188.60,616.24 L189.60,615.51 L190.60,614.78 L191.60,614.06 L192.60,613.35 L193.60,612.66 L194.60,611.97 L195.60,611.29 L196.60,610.62 L197.60,609.97 L198.60,609.32 L199.60,608.69 L200.60,608.07 L201.60,607.47 L202.60,606.88 L203.60,606.30 L204.60,605.74 L205.60,605.19 L206.60,604.66 L207.60,604.14 L208.60,603.64 L209.60,603.16 L210.60,602.70 L211.60,602.25 L212.60,601.82 L213.60,601.41 L214.60,601.02 L215.60,600.65 L216.60,600.30 L217.60,599.97 L218.60,599.67 L219.60,599.38 L220.60,599.12 L221.60,598.87 L222.60,598.66 L223.60,598.46 L224.60,598.28 L225.60,598.12 L226.60,597.97 L227.60,597.84 L228.60,597.73 L229.60,597.63 L230.60,597.54 L231.60,597.46 L232.60,597.38 L233.60,597.32 L234.60,597.26 L235.60,597.21 L236.60,597.16 L237.60,597.11 L238.60,597.06 L239.60,597.01 L240.60,596.96 L241.60,596.90 L242.60,596.84 L243.60,596.78 L244.60,596.71 L245.60,596.63 L246.60,596.53 L247.60,596.43 L248.60,596.32 L249.60,596.19 L250.60,596.05 L251.60,595.89 L252.60,595.72 L253.60,595.53 L254.60,595.32 L255.60,595.10 L256.60,594.85 L257.60,594.58 L258.60,594.28 L259.60,593.97 L260.60,593.64 L261.60,593.28 L262.60,592.92 L263.60,592.53 L264.60,592.14 L265.60,591.73 L266.60,591.32 L267.60,590.89 L268.60,590.46 L269.60,590.03 L270.60,589.60 L271.60,589.16 L272.60,588.73 L273.60,588.29 L274.60,587.86 L275.60,587.43 L276.60,587.01 L277.60,586.58 L278.60,586.16 L279.60,585.74 L280.60,585.33 L281.60,584.92 L282.60,584.52 L283.60,584.12 L284.60,583.72 L285.60,583.34 L286.60,582.95 L287.60,582.58 L288.60,582.21 L289.60,581.85 L290.60,581.49 L291.60,581.14 L292.60,580.80 L293.60,580.47 L294.60,580.15 L295.60,579.84 L296.60,579.54 L297.60,579.24 L298.60,578.96 L299.60,578.69 L300.60,578.43 L301.60,578.18 L302.60,577.94 L303.60,577.71 L304.60,577.50 L305.60,577.30 L306.60,577.11 L307.60,576.94 L308.60,576.78 L309.60,576.63 L310.60,576.50 L311.60,576.38 L312.60,576.28 L313.60,576.19 L314.60,576.12 L315.60,576.07 L316.60,576.02 L317.60,576.00 L318.60,575.99 L319.60,575.99 L320.60,576.01 L321.60,576.04 L322.60,576.09 L323.60,576.15 L324.60,576.22 L325.60,576.31 L326.60,576.41 L327.60,576.52 L328.60,576.65 L329.60,576.79 L330.60,576.94 L331.60,577.10 L332.60,577.28 L333.60,577.47 L334.60,577.67 L335.60,577.88 L336.60,578.10 L337.60,578.34 L338.60,578.58 L339.60,578.84 L340.60,579.11 L341.60,579.39 L342.60,579.68 L343.60,579.98 L344.60,580.29 L345.60,580.61 L346.60,580.94 L347.60,581.28 L348.60,581.63 L349.60,581.99 L350.60,582.35 L351.60,582.73 L352.60,583.12 L353.60,583.51 L354.60,583.91 L355.60,584.32 L356.60,584.74 L357.60,585.17 L358.60,585.60 L359.60,586.04 L360.60,586.49 L361.60,586.95 L362.60,587.41 L363.60,587.88 L364.60,588.36 L365.60,588.84 L366.60,589.33 L367.60,589.83 L368.60,590.33 L369.60,590.84 L370.60,591.35 L371.60,591.86 L372.60,592.39 L373.60,592.91 L374.60,593.44 L375.60,593.98 L376.60,594.52 L377.60,595.06 L378.60,595.61 L379.60,596.16 L380.60,596.71 L381.60,597.27 L382.60,597.83 L383.60,598.39 L384.60,598.95 L385.60,599.52 L386.60,600.09 L387.60,600.66 L388.60,601.23 L389.60,601.80 L390.60,602.37 L391.60,602.95 L392.60,603.52 L393.60,604.10 L394.60,604.67 L395.60,605.25 L396.60,605.82 L397.60,606.40 L398.60,606.97 L399.60,607.55 L400.60,608.12 L401.60,608.69 L402.60,609.26 L403.60,609.83 L404.60,610.40 L405.60,610.96 L406.60,611.52 L407.60,612.09 L408.60,612.65 L409.60,613.21 L410.60,613.77 L411.60,614.33 L412.60,614.88 L413.60,615.44 L414.60,615.99 L415.60,616.55 L416.60,617.10 L417.60,617.65 L418.60,618.20 L419.60,618.75 L420.60,619.30 L421.60,619.85 L422.60,620.40 L423.60,620.95 L424.60,621.50 L425.60,622.04 L426.60,622.59 L427.60,623.14 L428.60,623.68 L429.60,624.23 L430.60,624.77 L431.60,625.32 L432.60,625.86 L433.60,626.41 L434.60,626.95 L435.60,627.50 L436.60,628.04 L437.60,628.58 L438.60,629.13 L439.60,629.68 L440.60,630.23 L441.60,630.78 L442.60,631.34 L443.60,631.91 L444.60,632.48 L445.60,633.06 L446.60,633.65 L447.60,634.24 L448.60,634.85 L449.60,635.47 L450.60,636.09 L451.60,636.74 L452.60,637.39 L453.60,638.06 L454.60,638.75 L455.60,639.45 L456.60,640.17 L457.60,640.90 L458.60,641.65 L459.60,642.42 L460.60,643.19 L461.60,643.98 L462.60,644.78 L463.60,645.59 L464.60,646.41 L465.60,647.24 L466.60,648.08 L467.60,648.92 L468.60,649.77 L469.60,650.63 L470.60,651.49 L471.60,652.36 L472.60,653.23 L473.60,654.10 L474.60,654.97 L475.60,655.85 L476.60,656.72 L477.60,657.60 L478.60,658.47 L479.60,659.34 L480.60,660.21 L481.60,661.07 L482.60,661.93 L483.60,662.78 L484.60,663.63 L485.60,664.46 L486.60,665.30 L487.60,666.12 L488.60,666.93 L489.60,667.73 L490.60,668.52 L491.60,669.30 L492.60,670.06 L493.60,670.82 L494.60,671.55 L495.60,672.27 L496.60,672.98 L497.60,673.67 L498.60,674.34 L499.60,674.99 L500.60,675.62 L501.60,676.23 L502.60,676.82 L503.60,677.39 L504.60,677.94 L505.60,678.46 L506.60,678.96 L507.60,679.43 L508.60,679.88 L509.50,680.26 L509.50,684.60 L70.60,684.60 Z"/></clipPath><clipPath id="clb"><path d="M70.50,683.30 L71.50,683.09 L72.50,682.88 L73.50,682.67 L74.50,682.46 L75.50,682.25 L76.50,682.03 L77.50,681.82 L78.50,681.59 L79.50,681.37 L80.50,681.14 L81.50,680.91 L82.50,680.68 L83.50,680.45 L84.50,680.21 L85.50,679.97 L86.50,679.72 L87.50,679.47 L88.50,679.22 L89.50,678.96 L90.50,678.70 L91.50,678.44 L92.50,678.17 L93.50,677.90 L94.50,677.62 L95.50,677.34 L96.50,677.05 L97.50,676.76 L98.50,676.46 L99.50,676.16 L100.50,675.86 L101.50,675.55 L102.50,675.23 L103.50,674.91 L104.50,674.58 L105.50,674.25 L106.50,673.91 L107.50,673.57 L108.50,673.22 L109.50,672.86 L110.50,672.50 L111.50,672.13 L112.50,671.76 L113.50,671.38 L114.50,670.99 L115.50,670.60 L116.50,670.20 L117.50,669.79 L118.50,669.37 L119.50,668.95 L120.50,668.52 L121.50,668.09 L122.50,667.64 L123.50,667.19 L124.50,666.73 L125.50,666.27 L126.50,665.79 L127.50,665.31 L128.50,664.82 L129.50,664.32 L130.50,663.81 L131.50,663.29 L132.50,662.77 L133.50,662.24 L134.50,661.69 L135.50,661.14 L136.50,660.58 L137.50,660.01 L138.50,659.44 L139.50,658.85 L140.50,658.25 L141.50,657.64 L142.50,657.03 L143.50,656.40 L144.50,655.77 L145.50,655.12 L146.50,654.46 L147.50,653.80 L148.50,653.12 L149.50,652.43 L150.50,651.73 L151.50,651.03 L152.50,650.31 L153.50,649.58 L154.50,648.83 L155.50,648.08 L156.50,647.32 L157.50,646.54 L158.50,645.76 L159.50,644.96 L160.50,644.15 L161.50,643.33 L162.50,642.49 L163.50,641.65 L164.50,640.79 L165.50,639.92 L166.50,639.04 L167.50,638.14 L168.50,637.24 L169.50,636.32 L170.50,635.38 L171.50,634.44 L172.50,633.48 L173.50,632.51 L174.50,631.52 L175.50,630.52 L176.50,629.51 L177.50,628.49 L178.50,627.45 L179.50,626.39 L180.50,625.33 L181.50,624.25 L182.50,623.15 L183.50,622.04 L184.50,620.93 L185.50,619.80 L186.50,618.66 L187.50,617.52 L188.50,616.38 L189.50,615.23 L190.50,614.08 L191.50,612.94 L192.50,611.80 L193.50,610.66 L194.50,609.53 L195.50,608.42 L196.50,607.31 L197.50,606.21 L198.50,605.13 L199.50,604.07 L200.50,603.02 L201.50,602.00 L202.50,600.99 L203.50,600.00 L204.50,599.03 L205.50,598.07 L206.50,597.14 L207.50,596.21 L208.50,595.31 L209.50,594.41 L210.50,593.54 L211.50,592.67 L212.50,591.82 L213.50,590.98 L214.50,590.15 L215.50,589.34 L216.50,588.53 L217.50,587.74 L218.50,586.95 L219.50,586.17 L220.50,585.40 L221.50,584.64 L222.50,583.89 L223.50,583.14 L224.50,582.40 L225.50,581.67 L226.50,580.94 L227.50,580.21 L228.50,579.49 L229.50,578.78 L230.50,578.07 L231.50,577.37 L232.50,576.68 L233.50,575.99 L234.50,575.31 L235.50,574.63 L236.50,573.96 L237.50,573.30 L238.50,572.64 L239.50,572.00 L240.50,571.36 L241.50,570.72 L242.50,570.10 L243.50,569.48 L244.50,568.87 L245.50,568.27 L246.50,567.68 L247.50,567.10 L248.50,566.52 L249.50,565.96 L250.50,565.40 L251.50,564.85 L252.50,564.31 L253.50,563.78 L254.50,563.27 L255.50,562.76 L256.50,562.26 L257.50,561.77 L258.50,561.29 L259.50,560.82 L260.50,560.36 L261.50,559.92 L262.50,559.48 L263.50,559.06 L264.50,558.64 L265.50,558.24 L266.50,557.85 L267.50,557.47 L268.50,557.11 L269.50,556.75 L270.50,556.41 L271.50,556.08 L272.50,555.77 L273.50,555.46 L274.50,555.17 L275.50,554.90 L276.50,554.64 L277.50,554.39 L278.50,554.16 L279.50,553.95 L280.50,553.76 L281.50,553.59 L282.50,553.44 L283.50,553.30 L284.50,553.19 L285.50,553.11 L286.50,553.04 L287.50,553.00 L288.50,552.99 L289.50,553.00 L290.50,553.04 L291.50,553.10 L292.50,553.20 L293.50,553.32 L294.50,553.47 L295.50,553.66 L296.50,553.87 L297.50,554.12 L298.50,554.40 L299.50,554.71 L300.50,555.06 L301.50,555.45 L302.50,555.87 L303.50,556.33 L304.50,556.82 L305.50,557.35 L306.50,557.91 L307.50,558.50 L308.50,559.12 L309.50,559.77 L310.50,560.45 L311.50,561.15 L312.50,561.88 L313.50,562.63 L314.50,563.39 L315.50,564.18 L316.50,564.99 L317.50,565.81 L318.50,566.65 L319.50,567.51 L320.50,568.37 L321.50,569.25 L322.50,570.13 L323.50,571.03 L324.50,571.93 L325.50,572.83 L326.50,573.74 L327.50,574.65 L328.50,575.57 L329.50,576.48 L330.50,577.39 L331.50,578.29 L332.50,579.20 L333.50,580.10 L334.50,580.99 L335.50,581.89 L336.50,582.77 L337.50,583.65 L338.50,584.52 L339.50,585.38 L340.50,586.24 L341.50,587.09 L342.50,587.93 L343.50,588.75 L344.50,589.57 L345.50,590.38 L346.50,591.17 L347.50,591.96 L348.50,592.73 L349.50,593.48 L350.50,594.22 L351.50,594.95 L352.50,595.66 L353.50,596.36 L354.50,597.04 L355.50,597.70 L356.50,598.35 L357.50,598.97 L358.50,599.58 L359.50,600.17 L360.50,600.74 L361.50,601.28 L362.50,601.81 L363.50,602.32 L364.50,602.80 L365.50,603.27 L366.50,603.73 L367.50,604.17 L368.50,604.60 L369.50,605.02 L370.50,605.42 L371.50,605.83 L372.50,606.22 L373.50,606.62 L374.50,607.01 L375.50,607.40 L376.50,607.79 L377.50,608.18 L378.50,608.58 L379.50,608.98 L380.50,609.39 L381.50,609.81 L382.50,610.24 L383.50,610.69 L384.50,611.14 L385.50,611.62 L386.50,612.10 L387.50,612.61 L388.50,613.12 L389.50,613.66 L390.50,614.20 L391.50,614.76 L392.50,615.34 L393.50,615.92 L394.50,616.52 L395.50,617.13 L396.50,617.75 L397.50,618.38 L398.50,619.03 L399.50,619.68 L400.50,620.35 L401.50,621.02 L402.50,621.70 L403.50,622.39 L404.50,623.09 L405.50,623.80 L406.50,624.52 L407.50,625.24 L408.50,625.97 L409.50,626.70 L410.50,627.44 L411.50,628.19 L412.50,628.94 L413.50,629.70 L414.50,630.46 L415.50,631.23 L416.50,632.00 L417.50,632.77 L418.50,633.54 L419.50,634.32 L420.50,635.10 L421.50,635.88 L422.50,636.66 L423.50,637.44 L424.50,638.23 L425.50,639.01 L426.50,639.79 L427.50,640.58 L428.50,641.36 L429.50,642.14 L430.50,642.91 L431.50,643.69 L432.50,644.46 L433.50,645.23 L434.50,646.00 L435.50,646.76 L436.50,647.51 L437.50,648.27 L438.50,649.01 L439.50,649.76 L440.50,650.49 L441.50,651.22 L442.50,651.94 L443.50,652.66 L444.50,653.37 L445.50,654.07 L446.50,654.76 L447.50,655.44 L448.50,656.11 L449.50,656.78 L450.50,657.43 L451.50,658.08 L452.50,658.71 L453.50,659.34 L454.50,659.95 L455.50,660.55 L456.50,661.15 L457.50,661.73 L458.50,662.30 L459.50,662.86 L460.50,663.41 L461.50,663.95 L462.50,664.48 L463.50,665.00 L464.50,665.51 L465.50,666.00 L466.50,666.48 L467.50,666.96 L468.50,667.42 L469.50,667.87 L470.50,668.30 L471.50,668.73 L472.50,669.14 L473.50,669.55 L474.50,669.94 L475.50,670.31 L476.50,670.68 L477.50,671.03 L478.50,671.37 L479.50,671.70 L480.50,672.01 L481.50,672.32 L482.50,672.61 L483.50,672.88 L484.50,673.15 L485.50,673.40 L486.50,673.63 L487.50,673.86 L488.50,674.07 L489.50,674.26 L490.50,674.45 L491.50,674.62 L492.50,674.77 L493.50,674.92 L494.50,675.04 L495.50,675.16 L496.50,675.26 L497.50,675.34 L498.50,675.41 L499.50,675.47 L500.50,675.51 L501.50,675.54 L502.50,675.55 L503.50,675.55 L504.50,675.53 L505.50,675.50 L506.50,675.45 L507.50,675.39 L508.50,675.31 L509.50,675.22 L509.50,684.60 L70.50,684.60 Z"/></clipPath></defs><path d="M56.40,683.20H72.68V684.60H56.40ZM72.68,683.00H87.83V684.60H72.68ZM87.83,675.50H102.98V684.60H87.83ZM102.98,679.00H118.13V684.60H102.98ZM118.13,652.50H133.28V684.60H118.13ZM133.28,651.20H148.43V684.60H133.28ZM163.58,622.40H178.73V684.60H163.58ZM209.03,504.60H224.18V684.60H209.03ZM269.63,600.30H284.78V684.60H269.63ZM315.08,552.90H330.23V684.60H315.08ZM330.23,622.50H345.38V684.60H330.23ZM345.38,544.80H360.53V684.60H345.38ZM375.68,630.20H390.83V684.60H375.68ZM436.28,550.70H451.43V684.60H436.28ZM451.43,635.10H466.58V684.60H451.43Z" fill="#c20126"/><path d="M133.28,665.57H148.43V684.60H133.28ZM148.43,627.51H163.58V684.60H148.43ZM178.73,608.48H193.88V684.60H178.73ZM193.88,551.39H209.03V684.60H193.88ZM209.03,608.48H224.18V684.60H209.03ZM224.18,570.42H239.33V684.60H224.18ZM239.33,608.48H254.48V684.60H239.33ZM254.48,475.27H269.63V684.60H254.48ZM269.63,608.48H284.78V684.60H269.63ZM284.78,513.33H299.93V684.60H284.78ZM299.93,532.36H315.08V684.60H299.93ZM315.08,570.42H330.23V684.60H315.08ZM330.23,646.54H345.38V684.60H330.23ZM345.38,589.45H360.53V684.60H345.38ZM360.53,570.42H375.68V684.60H360.53ZM375.68,665.57H390.83V684.60H375.68ZM390.83,532.36H405.98V684.60H390.83ZM405.98,646.54H421.13V684.60H405.98ZM421.13,665.57H436.28V684.60H421.13ZM436.28,665.57H451.43V684.60H436.28ZM451.43,665.57H466.58V684.60H451.43ZM481.73,665.57H496.88V684.60H481.73ZM496.88,665.57H509.50V684.60H496.88Z" fill="#154680"/><g clip-path="url(#csb)"><rect x="60" y="384.6" width="460" height="300" fill="#d35b51"/><path d="M56.40,683.20H72.68V684.60H56.40ZM72.68,683.00H87.83V684.60H72.68ZM87.83,675.50H102.98V684.60H87.83ZM102.98,679.00H118.13V684.60H102.98ZM118.13,652.50H133.28V684.60H118.13ZM133.28,651.20H148.43V684.60H133.28ZM163.58,622.40H178.73V684.60H163.58ZM209.03,504.60H224.18V684.60H209.03ZM269.63,600.30H284.78V684.60H269.63ZM315.08,552.90H330.23V684.60H315.08ZM330.23,622.50H345.38V684.60H330.23ZM345.38,544.80H360.53V684.60H345.38ZM375.68,630.20H390.83V684.60H375.68ZM436.28,550.70H451.43V684.60H436.28ZM451.43,635.10H466.58V684.60H451.43Z" fill="#b3041a"/><path d="M133.28,665.57H148.43V684.60H133.28ZM148.43,627.51H163.58V684.60H148.43ZM178.73,608.48H193.88V684.60H178.73ZM193.88,551.39H209.03V684.60H193.88ZM209.03,608.48H224.18V684.60H209.03ZM224.18,570.42H239.33V684.60H224.18ZM239.33,608.48H254.48V684.60H239.33ZM254.48,475.27H269.63V684.60H254.48ZM269.63,608.48H284.78V684.60H269.63ZM284.78,513.33H299.93V684.60H284.78ZM299.93,532.36H315.08V684.60H299.93ZM315.08,570.42H330.23V684.60H315.08ZM330.23,646.54H345.38V684.60H330.23ZM345.38,589.45H360.53V684.60H345.38ZM360.53,570.42H375.68V684.60H360.53ZM375.68,665.57H390.83V684.60H375.68ZM390.83,532.36H405.98V684.60H390.83ZM405.98,646.54H421.13V684.60H405.98ZM421.13,665.57H436.28V684.60H421.13ZM436.28,665.57H451.43V684.60H436.28ZM451.43,665.57H466.58V684.60H451.43ZM481.73,665.57H496.88V684.60H481.73ZM496.88,665.57H509.50V684.60H496.88Z" fill="#2f2e45"/></g><g clip-path="url(#clb)"><rect x="60" y="384.6" width="460" height="300" fill="#5a709f"/><path d="M56.40,683.20H72.68V684.60H56.40ZM72.68,683.00H87.83V684.60H72.68ZM87.83,675.50H102.98V684.60H87.83ZM102.98,679.00H118.13V684.60H102.98ZM118.13,652.50H133.28V684.60H118.13ZM133.28,651.20H148.43V684.60H133.28ZM163.58,622.40H178.73V684.60H163.58ZM209.03,504.60H224.18V684.60H209.03ZM269.63,600.30H284.78V684.60H269.63ZM315.08,552.90H330.23V684.60H315.08ZM330.23,622.50H345.38V684.60H330.23ZM345.38,544.80H360.53V684.60H345.38ZM375.68,630.20H390.83V684.60H375.68ZM436.28,550.70H451.43V684.60H436.28ZM451.43,635.10H466.58V684.60H451.43Z" fill="#6c1a2b"/><path d="M118.13,665.57H133.28V684.60H118.13ZM133.28,665.57H148.43V684.60H133.28ZM148.43,627.51H163.58V684.60H148.43ZM178.73,608.48H193.88V684.60H178.73ZM193.88,551.39H209.03V684.60H193.88ZM209.03,608.48H224.18V684.60H209.03ZM224.18,570.42H239.33V684.60H224.18ZM239.33,608.48H254.48V684.60H239.33ZM254.48,475.27H269.63V684.60H254.48ZM269.63,608.48H284.78V684.60H269.63ZM284.78,513.33H299.93V684.60H284.78ZM299.93,532.36H315.08V684.60H299.93ZM315.08,570.42H330.23V684.60H315.08ZM330.23,646.54H345.38V684.60H330.23ZM345.38,589.45H360.53V684.60H345.38ZM360.53,570.42H375.68V684.60H360.53ZM375.68,665.57H390.83V684.60H375.68ZM390.83,532.36H405.98V684.60H390.83ZM405.98,646.54H421.13V684.60H405.98ZM421.13,665.57H436.28V684.60H421.13ZM436.28,665.57H451.43V684.60H436.28ZM451.43,665.57H466.58V684.60H451.43ZM481.73,665.57H496.88V684.60H481.73ZM496.88,665.57H509.50V684.60H496.88Z" fill="#223660"/></g><g clip-path="url(#csb)"><g clip-path="url(#clb)"><rect x="60" y="384.6" width="460" height="300" fill="#5c3446"/><path d="M56.40,683.20H72.68V684.60H56.40ZM72.68,683.00H87.83V684.60H72.68ZM87.83,675.50H102.98V684.60H87.83ZM102.98,679.00H118.13V684.60H102.98ZM118.13,652.50H133.28V684.60H118.13ZM133.28,651.20H148.43V684.60H133.28ZM163.58,622.40H178.73V684.60H163.58ZM209.03,504.60H224.18V684.60H209.03ZM269.63,600.30H284.78V684.60H269.63ZM315.08,552.90H330.23V684.60H315.08ZM330.23,622.50H345.38V684.60H330.23ZM345.38,544.80H360.53V684.60H345.38ZM375.68,630.20H390.83V684.60H375.68ZM436.28,550.70H451.43V684.60H436.28ZM451.43,635.10H466.58V684.60H451.43Z" fill="#561b20"/><path d="M118.13,665.57H133.28V684.60H118.13ZM133.28,665.57H148.43V684.60H133.28ZM148.43,627.51H163.58V684.60H148.43ZM178.73,608.48H193.88V684.60H178.73ZM193.88,551.39H209.03V684.60H193.88ZM209.03,608.48H224.18V684.60H209.03ZM224.18,570.42H239.33V684.60H224.18ZM239.33,608.48H254.48V684.60H239.33ZM254.48,475.27H269.63V684.60H254.48ZM269.63,608.48H284.78V684.60H269.63ZM284.78,513.33H299.93V684.60H284.78ZM299.93,532.36H315.08V684.60H299.93ZM315.08,570.42H330.23V684.60H315.08ZM330.23,646.54H345.38V684.60H330.23ZM345.38,589.45H360.53V684.60H345.38ZM360.53,570.42H375.68V684.60H360.53ZM375.68,665.57H390.83V684.60H375.68ZM390.83,532.36H405.98V684.60H390.83ZM405.98,646.54H421.13V684.60H405.98ZM421.13,665.57H436.28V684.60H421.13ZM436.28,665.57H451.43V684.60H436.28ZM451.43,665.57H466.58V684.60H451.43ZM481.73,665.57H496.88V684.60H481.73ZM496.88,665.57H509.50V684.60H496.88Z" fill="#262836"/></g></g><path d="M70.60,679.83 L71.60,679.75 L72.60,679.65 L73.60,679.54 L74.60,679.41 L75.60,679.27 L76.60,679.11 L77.60,678.94 L78.60,678.76 L79.60,678.56 L80.60,678.34 L81.60,678.12 L82.60,677.88 L83.60,677.62 L84.60,677.36 L85.60,677.08 L86.60,676.80 L87.60,676.50 L88.60,676.19 L89.60,675.86 L90.60,675.53 L91.60,675.19 L92.60,674.84 L93.60,674.48 L94.60,674.11 L95.60,673.73 L96.60,673.34 L97.60,672.95 L98.60,672.54 L99.60,672.13 L100.60,671.71 L101.60,671.29 L102.60,670.86 L103.60,670.42 L104.60,669.97 L105.60,669.52 L106.60,669.07 L107.60,668.61 L108.60,668.14 L109.60,667.67 L110.60,667.20 L111.60,666.72 L112.60,666.24 L113.60,665.76 L114.60,665.27 L115.60,664.78 L116.60,664.29 L117.60,663.79 L118.60,663.30 L119.60,662.80 L120.60,662.30 L121.60,661.80 L122.60,661.30 L123.60,660.80 L124.60,660.30 L125.60,659.81 L126.60,659.31 L127.60,658.81 L128.60,658.31 L129.60,657.81 L130.60,657.31 L131.60,656.80 L132.60,656.29 L133.60,655.78 L134.60,655.26 L135.60,654.73 L136.60,654.20 L137.60,653.66 L138.60,653.11 L139.60,652.55 L140.60,651.97 L141.60,651.39 L142.60,650.80 L143.60,650.19 L144.60,649.57 L145.60,648.94 L146.60,648.29 L147.60,647.63 L148.60,646.97 L149.60,646.29 L150.60,645.60 L151.60,644.90 L152.60,644.19 L153.60,643.47 L154.60,642.74 L155.60,642.00 L156.60,641.26 L157.60,640.51 L158.60,639.75 L159.60,638.99 L160.60,638.22 L161.60,637.45 L162.60,636.67 L163.60,635.89 L164.60,635.10 L165.60,634.31 L166.60,633.51 L167.60,632.72 L168.60,631.92 L169.60,631.12 L170.60,630.32 L171.60,629.52 L172.60,628.72 L173.60,627.91 L174.60,627.11 L175.60,626.31 L176.60,625.52 L177.60,624.72 L178.60,623.93 L179.60,623.14 L180.60,622.35 L181.60,621.57 L182.60,620.79 L183.60,620.02 L184.60,619.25 L185.60,618.49 L186.60,617.73 L187.60,616.98 L188.60,616.24 L189.60,615.51 L190.60,614.78 L191.60,614.06 L192.60,613.35 L193.60,612.66 L194.60,611.97 L195.60,611.29 L196.60,610.62 L197.60,609.97 L198.60,609.32 L199.60,608.69 L200.60,608.07 L201.60,607.47 L202.60,606.88 L203.60,606.30 L204.60,605.74 L205.60,605.19 L206.60,604.66 L207.60,604.14 L208.60,603.64 L209.60,603.16 L210.60,602.70 L211.60,602.25 L212.60,601.82 L213.60,601.41 L214.60,601.02 L215.60,600.65 L216.60,600.30 L217.60,599.97 L218.60,599.67 L219.60,599.38 L220.60,599.12 L221.60,598.87 L222.60,598.66 L223.60,598.46 L224.60,598.28 L225.60,598.12 L226.60,597.97 L227.60,597.84 L228.60,597.73 L229.60,597.63 L230.60,597.54 L231.60,597.46 L232.60,597.38 L233.60,597.32 L234.60,597.26 L235.60,597.21 L236.60,597.16 L237.60,597.11 L238.60,597.06 L239.60,597.01 L240.60,596.96 L241.60,596.90 L242.60,596.84 L243.60,596.78 L244.60,596.71 L245.60,596.63 L246.60,596.53 L247.60,596.43 L248.60,596.32 L249.60,596.19 L250.60,596.05 L251.60,595.89 L252.60,595.72 L253.60,595.53 L254.60,595.32 L255.60,595.10 L256.60,594.85 L257.60,594.58 L258.60,594.28 L259.60,593.97 L260.60,593.64 L261.60,593.28 L262.60,592.92 L263.60,592.53 L264.60,592.14 L265.60,591.73 L266.60,591.32 L267.60,590.89 L268.60,590.46 L269.60,590.03 L270.60,589.60 L271.60,589.16 L272.60,588.73 L273.60,588.29 L274.60,587.86 L275.60,587.43 L276.60,587.01 L277.60,586.58 L278.60,586.16 L279.60,585.74 L280.60,585.33 L281.60,584.92 L282.60,584.52 L283.60,584.12 L284.60,583.72 L285.60,583.34 L286.60,582.95 L287.60,582.58 L288.60,582.21 L289.60,581.85 L290.60,581.49 L291.60,581.14 L292.60,580.80 L293.60,580.47 L294.60,580.15 L295.60,579.84 L296.60,579.54 L297.60,579.24 L298.60,578.96 L299.60,578.69 L300.60,578.43 L301.60,578.18 L302.60,577.94 L303.60,577.71 L304.60,577.50 L305.60,577.30 L306.60,577.11 L307.60,576.94 L308.60,576.78 L309.60,576.63 L310.60,576.50 L311.60,576.38 L312.60,576.28 L313.60,576.19 L314.60,576.12 L315.60,576.07 L316.60,576.02 L317.60,576.00 L318.60,575.99 L319.60,575.99 L320.60,576.01 L321.60,576.04 L322.60,576.09 L323.60,576.15 L324.60,576.22 L325.60,576.31 L326.60,576.41 L327.60,576.52 L328.60,576.65 L329.60,576.79 L330.60,576.94 L331.60,577.10 L332.60,577.28 L333.60,577.47 L334.60,577.67 L335.60,577.88 L336.60,578.10 L337.60,578.34 L338.60,578.58 L339.60,578.84 L340.60,579.11 L341.60,579.39 L342.60,579.68 L343.60,579.98 L344.60,580.29 L345.60,580.61 L346.60,580.94 L347.60,581.28 L348.60,581.63 L349.60,581.99 L350.60,582.35 L351.60,582.73 L352.60,583.12 L353.60,583.51 L354.60,583.91 L355.60,584.32 L356.60,584.74 L357.60,585.17 L358.60,585.60 L359.60,586.04 L360.60,586.49 L361.60,586.95 L362.60,587.41 L363.60,587.88 L364.60,588.36 L365.60,588.84 L366.60,589.33 L367.60,589.83 L368.60,590.33 L369.60,590.84 L370.60,591.35 L371.60,591.86 L372.60,592.39 L373.60,592.91 L374.60,593.44 L375.60,593.98 L376.60,594.52 L377.60,595.06 L378.60,595.61 L379.60,596.16 L380.60,596.71 L381.60,597.27 L382.60,597.83 L383.60,598.39 L384.60,598.95 L385.60,599.52 L386.60,600.09 L387.60,600.66 L388.60,601.23 L389.60,601.80 L390.60,602.37 L391.60,602.95 L392.60,603.52 L393.60,604.10 L394.60,604.67 L395.60,605.25 L396.60,605.82 L397.60,606.40 L398.60,606.97 L399.60,607.55 L400.60,608.12 L401.60,608.69 L402.60,609.26 L403.60,609.83 L404.60,610.40 L405.60,610.96 L406.60,611.52 L407.60,612.09 L408.60,612.65 L409.60,613.21 L410.60,613.77 L411.60,614.33 L412.60,614.88 L413.60,615.44 L414.60,615.99 L415.60,616.55 L416.60,617.10 L417.60,617.65 L418.60,618.20 L419.60,618.75 L420.60,619.30 L421.60,619.85 L422.60,620.40 L423.60,620.95 L424.60,621.50 L425.60,622.04 L426.60,622.59 L427.60,623.14 L428.60,623.68 L429.60,624.23 L430.60,624.77 L431.60,625.32 L432.60,625.86 L433.60,626.41 L434.60,626.95 L435.60,627.50 L436.60,628.04 L437.60,628.58 L438.60,629.13 L439.60,629.68 L440.60,630.23 L441.60,630.78 L442.60,631.34 L443.60,631.91 L444.60,632.48 L445.60,633.06 L446.60,633.65 L447.60,634.24 L448.60,634.85 L449.60,635.47 L450.60,636.09 L451.60,636.74 L452.60,637.39 L453.60,638.06 L454.60,638.75 L455.60,639.45 L456.60,640.17 L457.60,640.90 L458.60,641.65 L459.60,642.42 L460.60,643.19 L461.60,643.98 L462.60,644.78 L463.60,645.59 L464.60,646.41 L465.60,647.24 L466.60,648.08 L467.60,648.92 L468.60,649.77 L469.60,650.63 L470.60,651.49 L471.60,652.36 L472.60,653.23 L473.60,654.10 L474.60,654.97 L475.60,655.85 L476.60,656.72 L477.60,657.60 L478.60,658.47 L479.60,659.34 L480.60,660.21 L481.60,661.07 L482.60,661.93 L483.60,662.78 L484.60,663.63 L485.60,664.46 L486.60,665.30 L487.60,666.12 L488.60,666.93 L489.60,667.73 L490.60,668.52 L491.60,669.30 L492.60,670.06 L493.60,670.82 L494.60,671.55 L495.60,672.27 L496.60,672.98 L497.60,673.67 L498.60,674.34 L499.60,674.99 L500.60,675.62 L501.60,676.23 L502.60,676.82 L503.60,677.39 L504.60,677.94 L505.60,678.46 L506.60,678.96 L507.60,679.43 L508.60,679.88 L509.50,680.26 L509.50,684.60 L70.60,684.60 Z" fill="none" stroke="#111" stroke-width="1.5" stroke-linejoin="round"/><path d="M70.50,683.30 L71.50,683.09 L72.50,682.88 L73.50,682.67 L74.50,682.46 L75.50,682.25 L76.50,682.03 L77.50,681.82 L78.50,681.59 L79.50,681.37 L80.50,681.14 L81.50,680.91 L82.50,680.68 L83.50,680.45 L84.50,680.21 L85.50,679.97 L86.50,679.72 L87.50,679.47 L88.50,679.22 L89.50,678.96 L90.50,678.70 L91.50,678.44 L92.50,678.17 L93.50,677.90 L94.50,677.62 L95.50,677.34 L96.50,677.05 L97.50,676.76 L98.50,676.46 L99.50,676.16 L100.50,675.86 L101.50,675.55 L102.50,675.23 L103.50,674.91 L104.50,674.58 L105.50,674.25 L106.50,673.91 L107.50,673.57 L108.50,673.22 L109.50,672.86 L110.50,672.50 L111.50,672.13 L112.50,671.76 L113.50,671.38 L114.50,670.99 L115.50,670.60 L116.50,670.20 L117.50,669.79 L118.50,669.37 L119.50,668.95 L120.50,668.52 L121.50,668.09 L122.50,667.64 L123.50,667.19 L124.50,666.73 L125.50,666.27 L126.50,665.79 L127.50,665.31 L128.50,664.82 L129.50,664.32 L130.50,663.81 L131.50,663.29 L132.50,662.77 L133.50,662.24 L134.50,661.69 L135.50,661.14 L136.50,660.58 L137.50,660.01 L138.50,659.44 L139.50,658.85 L140.50,658.25 L141.50,657.64 L142.50,657.03 L143.50,656.40 L144.50,655.77 L145.50,655.12 L146.50,654.46 L147.50,653.80 L148.50,653.12 L149.50,652.43 L150.50,651.73 L151.50,651.03 L152.50,650.31 L153.50,649.58 L154.50,648.83 L155.50,648.08 L156.50,647.32 L157.50,646.54 L158.50,645.76 L159.50,644.96 L160.50,644.15 L161.50,643.33 L162.50,642.49 L163.50,641.65 L164.50,640.79 L165.50,639.92 L166.50,639.04 L167.50,638.14 L168.50,637.24 L169.50,636.32 L170.50,635.38 L171.50,634.44 L172.50,633.48 L173.50,632.51 L174.50,631.52 L175.50,630.52 L176.50,629.51 L177.50,628.49 L178.50,627.45 L179.50,626.39 L180.50,625.33 L181.50,624.25 L182.50,623.15 L183.50,622.04 L184.50,620.93 L185.50,619.80 L186.50,618.66 L187.50,617.52 L188.50,616.38 L189.50,615.23 L190.50,614.08 L191.50,612.94 L192.50,611.80 L193.50,610.66 L194.50,609.53 L195.50,608.42 L196.50,607.31 L197.50,606.21 L198.50,605.13 L199.50,604.07 L200.50,603.02 L201.50,602.00 L202.50,600.99 L203.50,600.00 L204.50,599.03 L205.50,598.07 L206.50,597.14 L207.50,596.21 L208.50,595.31 L209.50,594.41 L210.50,593.54 L211.50,592.67 L212.50,591.82 L213.50,590.98 L214.50,590.15 L215.50,589.34 L216.50,588.53 L217.50,587.74 L218.50,586.95 L219.50,586.17 L220.50,585.40 L221.50,584.64 L222.50,583.89 L223.50,583.14 L224.50,582.40 L225.50,581.67 L226.50,580.94 L227.50,580.21 L228.50,579.49 L229.50,578.78 L230.50,578.07 L231.50,577.37 L232.50,576.68 L233.50,575.99 L234.50,575.31 L235.50,574.63 L236.50,573.96 L237.50,573.30 L238.50,572.64 L239.50,572.00 L240.50,571.36 L241.50,570.72 L242.50,570.10 L243.50,569.48 L244.50,568.87 L245.50,568.27 L246.50,567.68 L247.50,567.10 L248.50,566.52 L249.50,565.96 L250.50,565.40 L251.50,564.85 L252.50,564.31 L253.50,563.78 L254.50,563.27 L255.50,562.76 L256.50,562.26 L257.50,561.77 L258.50,561.29 L259.50,560.82 L260.50,560.36 L261.50,559.92 L262.50,559.48 L263.50,559.06 L264.50,558.64 L265.50,558.24 L266.50,557.85 L267.50,557.47 L268.50,557.11 L269.50,556.75 L270.50,556.41 L271.50,556.08 L272.50,555.77 L273.50,555.46 L274.50,555.17 L275.50,554.90 L276.50,554.64 L277.50,554.39 L278.50,554.16 L279.50,553.95 L280.50,553.76 L281.50,553.59 L282.50,553.44 L283.50,553.30 L284.50,553.19 L285.50,553.11 L286.50,553.04 L287.50,553.00 L288.50,552.99 L289.50,553.00 L290.50,553.04 L291.50,553.10 L292.50,553.20 L293.50,553.32 L294.50,553.47 L295.50,553.66 L296.50,553.87 L297.50,554.12 L298.50,554.40 L299.50,554.71 L300.50,555.06 L301.50,555.45 L302.50,555.87 L303.50,556.33 L304.50,556.82 L305.50,557.35 L306.50,557.91 L307.50,558.50 L308.50,559.12 L309.50,559.77 L310.50,560.45 L311.50,561.15 L312.50,561.88 L313.50,562.63 L314.50,563.39 L315.50,564.18 L316.50,564.99 L317.50,565.81 L318.50,566.65 L319.50,567.51 L320.50,568.37 L321.50,569.25 L322.50,570.13 L323.50,571.03 L324.50,571.93 L325.50,572.83 L326.50,573.74 L327.50,574.65 L328.50,575.57 L329.50,576.48 L330.50,577.39 L331.50,578.29 L332.50,579.20 L333.50,580.10 L334.50,580.99 L335.50,581.89 L336.50,582.77 L337.50,583.65 L338.50,584.52 L339.50,585.38 L340.50,586.24 L341.50,587.09 L342.50,587.93 L343.50,588.75 L344.50,589.57 L345.50,590.38 L346.50,591.17 L347.50,591.96 L348.50,592.73 L349.50,593.48 L350.50,594.22 L351.50,594.95 L352.50,595.66 L353.50,596.36 L354.50,597.04 L355.50,597.70 L356.50,598.35 L357.50,598.97 L358.50,599.58 L359.50,600.17 L360.50,600.74 L361.50,601.28 L362.50,601.81 L363.50,602.32 L364.50,602.80 L365.50,603.27 L366.50,603.73 L367.50,604.17 L368.50,604.60 L369.50,605.02 L370.50,605.42 L371.50,605.83 L372.50,606.22 L373.50,606.62 L374.50,607.01 L375.50,607.40 L376.50,607.79 L377.50,608.18 L378.50,608.58 L379.50,608.98 L380.50,609.39 L381.50,609.81 L382.50,610.24 L383.50,610.69 L384.50,611.14 L385.50,611.62 L386.50,612.10 L387.50,612.61 L388.50,613.12 L389.50,613.66 L390.50,614.20 L391.50,614.76 L392.50,615.34 L393.50,615.92 L394.50,616.52 L395.50,617.13 L396.50,617.75 L397.50,618.38 L398.50,619.03 L399.50,619.68 L400.50,620.35 L401.50,621.02 L402.50,621.70 L403.50,622.39 L404.50,623.09 L405.50,623.80 L406.50,624.52 L407.50,625.24 L408.50,625.97 L409.50,626.70 L410.50,627.44 L411.50,628.19 L412.50,628.94 L413.50,629.70 L414.50,630.46 L415.50,631.23 L416.50,632.00 L417.50,632.77 L418.50,633.54 L419.50,634.32 L420.50,635.10 L421.50,635.88 L422.50,636.66 L423.50,637.44 L424.50,638.23 L425.50,639.01 L426.50,639.79 L427.50,640.58 L428.50,641.36 L429.50,642.14 L430.50,642.91 L431.50,643.69 L432.50,644.46 L433.50,645.23 L434.50,646.00 L435.50,646.76 L436.50,647.51 L437.50,648.27 L438.50,649.01 L439.50,649.76 L440.50,650.49 L441.50,651.22 L442.50,651.94 L443.50,652.66 L444.50,653.37 L445.50,654.07 L446.50,654.76 L447.50,655.44 L448.50,656.11 L449.50,656.78 L450.50,657.43 L451.50,658.08 L452.50,658.71 L453.50,659.34 L454.50,659.95 L455.50,660.55 L456.50,661.15 L457.50,661.73 L458.50,662.30 L459.50,662.86 L460.50,663.41 L461.50,663.95 L462.50,664.48 L463.50,665.00 L464.50,665.51 L465.50,666.00 L466.50,666.48 L467.50,666.96 L468.50,667.42 L469.50,667.87 L470.50,668.30 L471.50,668.73 L472.50,669.14 L473.50,669.55 L474.50,669.94 L475.50,670.31 L476.50,670.68 L477.50,671.03 L478.50,671.37 L479.50,671.70 L480.50,672.01 L481.50,672.32 L482.50,672.61 L483.50,672.88 L484.50,673.15 L485.50,673.40 L486.50,673.63 L487.50,673.86 L488.50,674.07 L489.50,674.26 L490.50,674.45 L491.50,674.62 L492.50,674.77 L493.50,674.92 L494.50,675.04 L495.50,675.16 L496.50,675.26 L497.50,675.34 L498.50,675.41 L499.50,675.47 L500.50,675.51 L501.50,675.54 L502.50,675.55 L503.50,675.55 L504.50,675.53 L505.50,675.50 L506.50,675.45 L507.50,675.39 L508.50,675.31 L509.50,675.22 L509.50,684.60 L70.50,684.60 Z" fill="none" stroke="#111" stroke-width="1.5" stroke-linejoin="round"/><path d="M35.00,401.30V684.60H510.40" fill="none" stroke="#000" stroke-width="1.5"/><line x1="30.50" y1="406.20" x2="35.00" y2="406.20" stroke="#1a1a1a" stroke-width="1.2"/><text x="26.30" y="410.20" text-anchor="end" class="tk">6</text><line x1="30.50" y1="498.80" x2="35.00" y2="498.80" stroke="#1a1a1a" stroke-width="1.2"/><text x="26.30" y="502.80" text-anchor="end" class="tk">4</text><line x1="30.50" y1="592.10" x2="35.00" y2="592.10" stroke="#1a1a1a" stroke-width="1.2"/><text x="26.30" y="596.10" text-anchor="end" class="tk">2</text><line x1="30.50" y1="684.60" x2="35.00" y2="684.60" stroke="#1a1a1a" stroke-width="1.2"/><text x="26.30" y="688.60" text-anchor="end" class="tk">0</text><line x1="141.30" y1="684.60" x2="141.30" y2="689.10" stroke="#1a1a1a" stroke-width="1.2"/><text x="141.30" y="703.60" text-anchor="middle" class="tk">0.2</text><line x1="261.70" y1="684.60" x2="261.70" y2="689.10" stroke="#1a1a1a" stroke-width="1.2"/><text x="261.70" y="703.60" text-anchor="middle" class="tk">0.4</text><line x1="382.20" y1="684.60" x2="382.20" y2="689.10" stroke="#1a1a1a" stroke-width="1.2"/><text x="382.20" y="703.60" text-anchor="middle" class="tk">0.6</text><line x1="502.50" y1="684.60" x2="502.50" y2="689.10" stroke="#1a1a1a" stroke-width="1.2"/><text x="502.50" y="703.60" text-anchor="middle" class="tk">0.8</text><text x="0.3" y="14.2" class="pl">A</text><text x="0.6" y="384.6" class="pl">B</text><text x="196.2" y="27.4" class="tt" textLength="156.6" lengthAdjust="spacingAndGlyphs">Unweighted histogram plot</text><text x="200.6" y="399.6" class="tt" textLength="142.4" lengthAdjust="spacingAndGlyphs">Weighted histogram plot</text><text x="334.4" y="60.0" class="lg">Study</text><rect x="372.2" y="51.7" width="8.5" height="8.4" fill="#c20126"/><text x="385.6" y="60.0" class="lg">ReCORD-FL</text><rect x="458.2" y="51.7" width="8.5" height="8.4" fill="#154680"/><text x="471.2" y="60.0" class="lg">ELARA</text><text x="332.5" y="431.9" class="lg">Study</text><rect x="370.4" y="423.6" width="8.5" height="8.4" fill="#c20126"/><text x="382.9" y="431.9" class="lg">ReCORD-FL</text><rect x="456.2" y="423.6" width="8.5" height="8.4" fill="#154680"/><text x="468.9" y="431.9" class="lg">ELARA</text><text x="275.5" y="350.8" class="ax" text-anchor="middle" textLength="55" lengthAdjust="spacingAndGlyphs">Estimated PS</text><text x="272.3" y="722.3" class="ax" text-anchor="middle" textLength="55.4" lengthAdjust="spacingAndGlyphs">Estimated PS</text><text transform="translate(14.2,173.8) rotate(-90)" class="ax" text-anchor="middle" textLength="31" lengthAdjust="spacingAndGlyphs">Density</text><text transform="translate(13.4,545.2) rotate(-90)" class="ax" text-anchor="middle" textLength="30.3" lengthAdjust="spacingAndGlyphs">Density</text>
</svg>
</body></html>
